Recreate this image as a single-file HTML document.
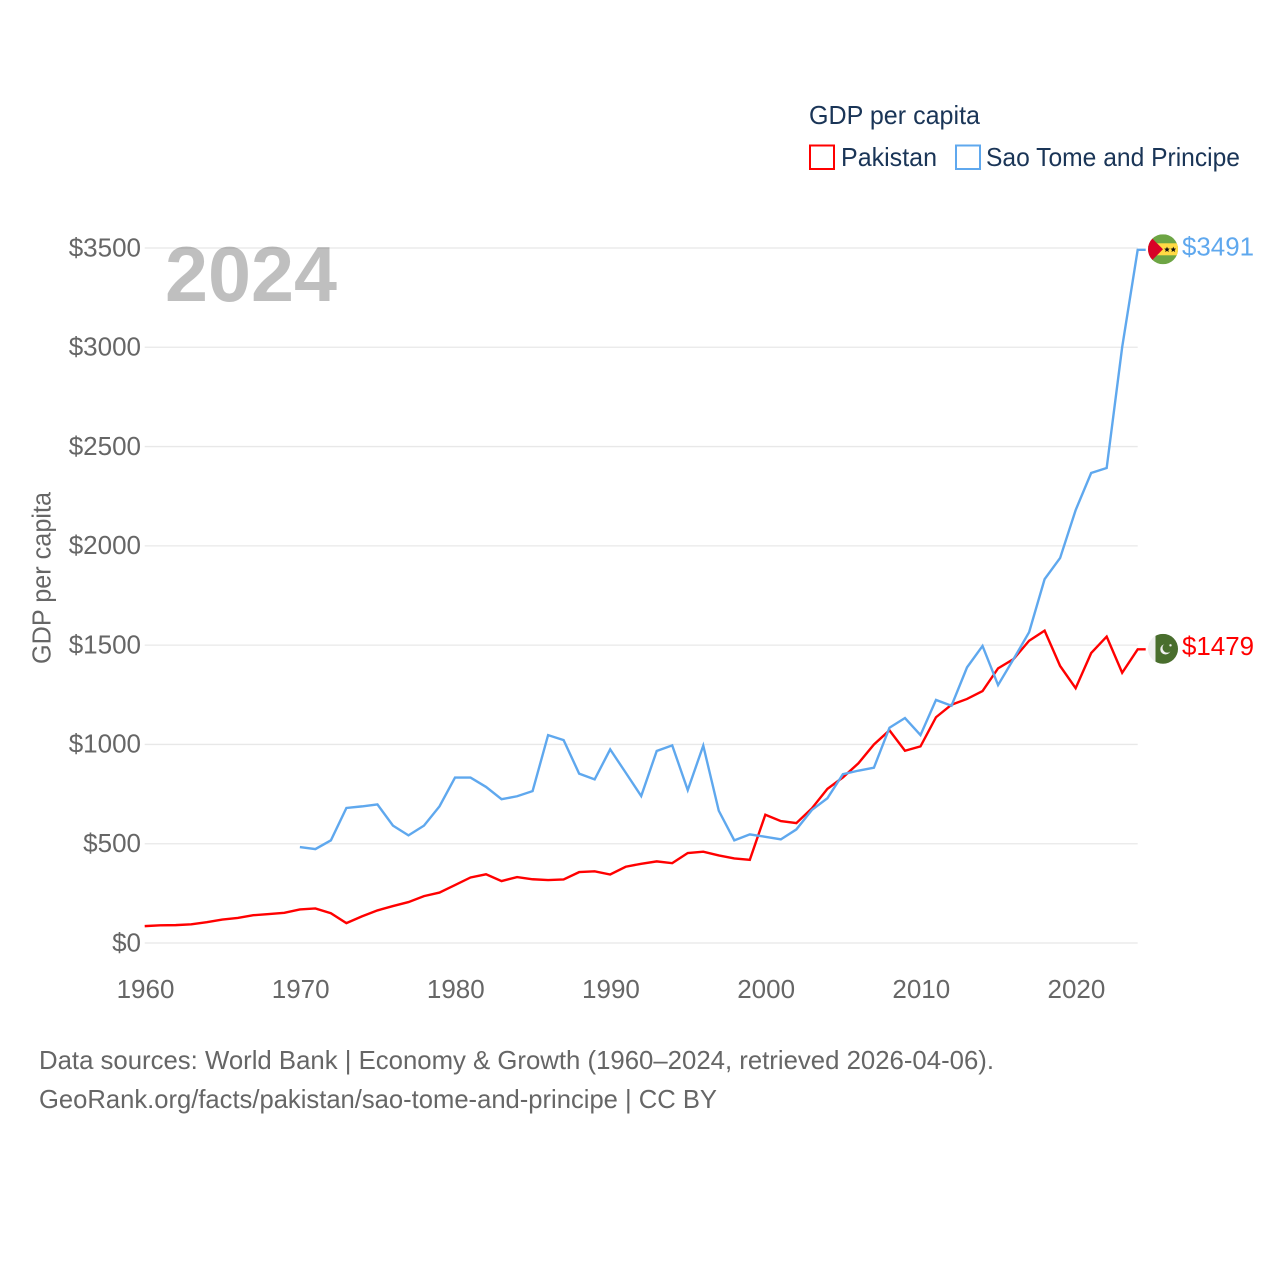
<!DOCTYPE html>
<html lang="en">
<head>
<meta charset="utf-8">
<title>GDP per capita: Pakistan and Sao Tome and Principe</title>
<style>
html,body{margin:0;padding:0;background:#fff;}
svg{display:block;font-family:"Liberation Sans",sans-serif;}
</style>
</head>
<body>
<svg id="chart" width="1280" height="1280" viewBox="0 0 1280 1280" xmlns="http://www.w3.org/2000/svg">
  <rect width="1280" height="1280" fill="#ffffff"/>
  <g id="grid"></g>
  <g id="yticks"></g>
  <g id="xticks"></g>
  <text transform="translate(50.500,578) rotate(-90)" text-anchor="middle" font-size="25.500" fill="#666666" textLength="172" lengthAdjust="spacingAndGlyphs">GDP per capita</text>
  <text x="165" y="301" font-size="78" font-weight="700" fill="rgba(0,0,0,0.25)" textLength="172" lengthAdjust="spacingAndGlyphs">2024</text>
  <g id="lines"></g>
  <g>
    <text x="809" y="124" font-size="26" fill="#1a3557" textLength="171" lengthAdjust="spacingAndGlyphs">GDP per capita</text>
    <g>
      <rect x="810" y="145.500" width="24" height="23.500" fill="none" stroke="#ff0000" stroke-width="2"/>
      <text x="841" y="166" font-size="26" fill="#1a3557" textLength="96" lengthAdjust="spacingAndGlyphs">Pakistan</text>
    </g>
    <g>
      <rect x="956" y="145.500" width="24" height="23.500" fill="none" stroke="#5fa8ee" stroke-width="2"/>
      <text x="986" y="166" font-size="26" fill="#1a3557" textLength="254" lengthAdjust="spacingAndGlyphs">Sao Tome and Principe</text>
    </g>
  </g>
  <defs>
    <clipPath id="flagClip"><circle cx="15" cy="15" r="15"/></clipPath>
  </defs>
  <g id="flagStp">
    <g clip-path="url(#flagClip)">
      <rect width="30" height="30" fill="#6da544"/>
      <rect y="9" width="30" height="12" fill="#ffda44"/>
      <path d="M0 0 L15 15 L0 30 Z" fill="#d80027"/>
      <path d="M19 12.300 l0.800 1.900 2 0.200 -1.500 1.300 0.500 2 -1.800 -1.100 -1.800 1.100 0.500 -2 -1.500 -1.300 2 -0.200z" fill="#111111"/>
      <path d="M25.300 12.300 l0.800 1.900 2 0.200 -1.500 1.300 0.500 2 -1.800 -1.100 -1.800 1.100 0.500 -2 -1.500 -1.300 2 -0.200z" fill="#111111"/>
    </g>
  </g>
  <g id="flagPak">
    <g clip-path="url(#flagClip)">
      <rect width="30" height="30" fill="#f0f0f0"/>
      <rect x="7.500" width="22.500" height="30" fill="#496e2d"/>
      <circle cx="17.500" cy="15.500" r="5.200" fill="#f0f0f0"/>
      <circle cx="19.300" cy="14" r="4.800" fill="#496e2d"/>
      <circle cx="22.500" cy="11.500" r="1.200" fill="#f0f0f0"/>
    </g>
  </g>
  <text id="valPak" x="1182" y="655" font-size="26" fill="#ff0000" textLength="72" lengthAdjust="spacingAndGlyphs"></text>
  <text id="valStp" x="1182" y="256" font-size="26" fill="#5fa8ee" textLength="72" lengthAdjust="spacingAndGlyphs"></text>
  <g>
    <text x="39" y="1069" font-size="26" fill="#666666" textLength="955" lengthAdjust="spacingAndGlyphs">Data sources: World Bank | Economy &amp; Growth (1960–2024, retrieved 2026-04-06).</text>
    <text x="39" y="1108" font-size="26" fill="#666666" textLength="678" lengthAdjust="spacingAndGlyphs">GeoRank.org/facts/pakistan/sao-tome-and-principe | CC BY</text>
  </g>
</svg>
<script>
const yTickValues = [0, 500, 1000, 1500, 2000, 2500, 3000, 3500];
const xTickYears = [1960, 1970, 1980, 1990, 2000, 2010, 2020];
const pakistanStartYear = 1960;
const pakistanValues = [85, 89, 90, 94, 105, 118, 126, 140, 146, 152, 169, 174, 150, 100, 134, 164, 186, 206, 236, 254, 292, 330, 346, 312, 332, 321, 317, 320, 357, 361, 345, 384, 399, 411, 402, 453, 460, 441, 426, 419, 646, 614, 604, 678, 776, 834, 905, 1000, 1071, 968, 990, 1137, 1200, 1229, 1269, 1383, 1430, 1522, 1573, 1395, 1283, 1460, 1543, 1361, 1479];
const saoTomeStartYear = 1970;
const saoTomeValues = [483, 473, 517, 680, 688, 698, 591, 542, 591, 688, 833, 833, 786, 724, 739, 765, 1047, 1022, 853, 824, 975, 858, 740, 967, 995, 770, 994, 666, 517, 547, 535, 522, 572, 670, 729, 850, 868, 883, 1084, 1133, 1047, 1224, 1195, 1388, 1496, 1299, 1430, 1565, 1832, 1939, 2180, 2367, 2392, 3001, 3491];

const NS = 'http://www.w3.org/2000/svg';
const xScale = function (year) { return 144.700 + (year - 1960) * (1137.700 - 144.700) / (2024 - 1960); };
const yScale = function (value) { return 943 - value * (943 - 248) / 3500; };
const tailLength = 8;

function make(tag, parent) {
  const el = document.createElementNS(NS, tag);
  parent.appendChild(el);
  return el;
}

const gridGroup = document.getElementById('grid');
const yTickGroup = document.getElementById('yticks');
yTickValues.forEach(function (v) {
  const line = make('line', gridGroup);
  
  
  line.setAttribute('x1', xScale(1960));
  line.setAttribute('x2', xScale(2024));
  line.setAttribute('y1', yScale(v));
  line.setAttribute('y2', yScale(v));
  line.setAttribute('stroke', '#e8e8e8');
  line.setAttribute('stroke-width', '1.300');

  const label = make('text', yTickGroup);
  
  
  label.setAttribute('x', 141);
  label.setAttribute('y', yScale(v) + 8.300);
  label.setAttribute('text-anchor', 'end');
  label.setAttribute('font-size', '26');
  label.setAttribute('fill', '#666666');
  label.textContent = '$' + v;
});

const xTickGroup = document.getElementById('xticks');
xTickYears.forEach(function (year) {
  const label = make('text', xTickGroup);
  
  
  label.setAttribute('x', xScale(year) + 0.800);
  label.setAttribute('y', 998);
  label.setAttribute('text-anchor', 'middle');
  label.setAttribute('font-size', '26');
  label.setAttribute('fill', '#666666');
  label.textContent = String(year);
});

function seriesPath(startYear, values) {
  let d = '';
  values.forEach(function (v, i) {
    d += (i === 0 ? 'M' : 'L') + xScale(startYear + i).toFixed(2) + ' ' + yScale(v).toFixed(2) + ' ';
  });
  const last = values[values.length - 1];
  d += 'L' + (xScale(startYear + values.length - 1) + tailLength).toFixed(2) + ' ' + yScale(last).toFixed(2);
  return d;
}

const lineGroup = document.getElementById('lines');

const pakistanLine = make('path', lineGroup);


pakistanLine.setAttribute('d', seriesPath(pakistanStartYear, pakistanValues));
pakistanLine.setAttribute('fill', 'none');
pakistanLine.setAttribute('stroke', '#ff0000');
pakistanLine.setAttribute('stroke-width', '2.400');

const saoTomeLine = make('path', lineGroup);


saoTomeLine.setAttribute('d', seriesPath(saoTomeStartYear, saoTomeValues));
saoTomeLine.setAttribute('fill', 'none');
saoTomeLine.setAttribute('stroke', '#5fa8ee');
saoTomeLine.setAttribute('stroke-width', '2.400');

const pakLast = pakistanValues[pakistanValues.length - 1];
const stpLast = saoTomeValues[saoTomeValues.length - 1];
document.getElementById('flagPak').setAttribute('transform', 'translate(1148,' + (yScale(pakLast) - 15.500) + ')');
document.getElementById('flagStp').setAttribute('transform', 'translate(1148,' + (yScale(stpLast) - 15.500) + ')');
const valPak = document.getElementById('valPak');
valPak.textContent = '$' + pakLast;
valPak.setAttribute('y', yScale(pakLast) + 5.500);
const valStp = document.getElementById('valStp');
valStp.textContent = '$' + stpLast;
valStp.setAttribute('y', yScale(stpLast) + 5.500);
</script>
</body>
</html>
